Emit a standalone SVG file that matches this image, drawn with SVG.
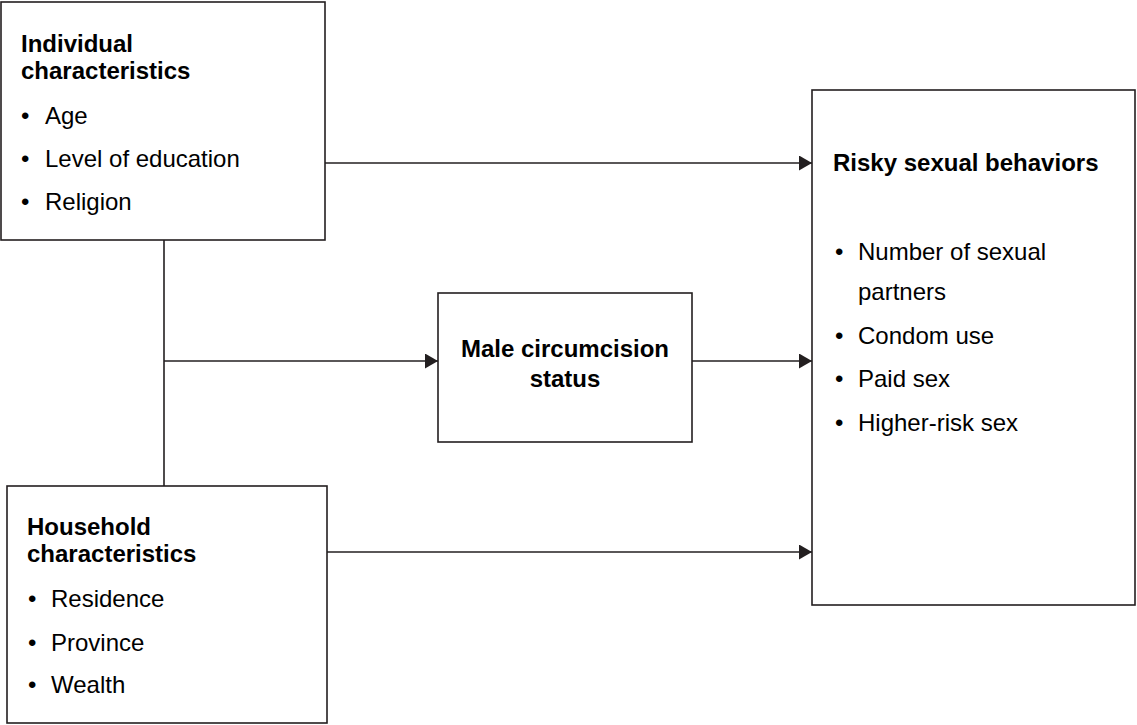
<svg xmlns="http://www.w3.org/2000/svg" width="1137" height="725" viewBox="0 0 1137 725">
<style>
.box{fill:#fff;stroke:#231f20;stroke-width:1.6}
.t{font-family:"Liberation Sans",Arial,sans-serif;font-size:24px;fill:#000}
.b{font-weight:bold}
.c{fill:none;stroke:#231f20;stroke-width:1.6}
</style>
<defs>
<marker id="ah" markerUnits="userSpaceOnUse" markerWidth="14" markerHeight="16" refX="13" refY="7.5" orient="auto">
<path d="M0,0 L13,7.5 L0,15 z" fill="#231f20"/>
</marker>
</defs>
<rect width="1137" height="725" fill="#fff"/>
<g id="connectors">
<path class="c" d="M164,240 V486"/>
<path class="c" d="M164,361 H438" marker-end="url(#ah)"/>
<path class="c" d="M325,163 H812" marker-end="url(#ah)"/>
<path class="c" d="M692,361 H812" marker-end="url(#ah)"/>
<path class="c" d="M327,552 H812" marker-end="url(#ah)"/>
</g>
<g id="individual">
<rect class="box" x="1" y="2" width="324" height="238"/>
<text class="t b" x="21" y="52">Individual</text>
<text class="t b" x="21" y="79">characteristics</text>
<text class="t" x="21" y="124">•</text><text class="t" x="45" y="124">Age</text>
<text class="t" x="21" y="167">•</text><text class="t" x="45" y="167">Level of education</text>
<text class="t" x="21" y="210">•</text><text class="t" x="45" y="210">Religion</text>
</g>
<g id="household">
<rect class="box" x="7" y="486" width="320" height="237"/>
<text class="t b" x="27" y="535">Household</text>
<text class="t b" x="27" y="562">characteristics</text>
<text class="t" x="28" y="607">•</text><text class="t" x="51" y="607">Residence</text>
<text class="t" x="28" y="651">•</text><text class="t" x="51" y="651">Province</text>
<text class="t" x="28" y="693">•</text><text class="t" x="51" y="693">Wealth</text>
</g>
<g id="circumcision">
<rect class="box" x="438" y="293" width="254" height="149"/>
<text class="t b" x="565" y="357" text-anchor="middle">Male circumcision</text>
<text class="t b" x="565" y="387" text-anchor="middle">status</text>
</g>
<g id="risky">
<rect class="box" x="812" y="90" width="323" height="515"/>
<text class="t b" x="833" y="171">Risky sexual behaviors</text>
<text class="t" x="835" y="260">•</text><text class="t" x="858" y="260">Number of sexual</text>
<text class="t" x="858" y="300">partners</text>
<text class="t" x="835" y="344">•</text><text class="t" x="858" y="344">Condom use</text>
<text class="t" x="835" y="387">•</text><text class="t" x="858" y="387">Paid sex</text>
<text class="t" x="835" y="431">•</text><text class="t" x="858" y="431">Higher-risk sex</text>
</g>
</svg>
